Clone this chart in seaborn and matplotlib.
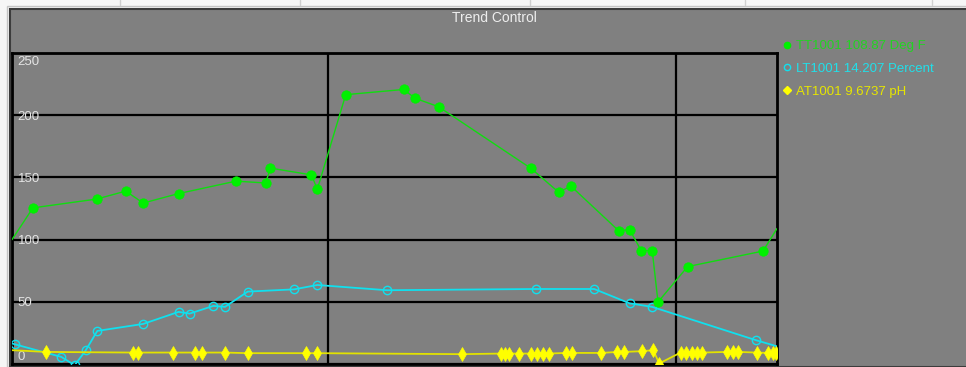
import numpy as np
import pandas as pd
import seaborn as sns
import matplotlib.pyplot as plt
from matplotlib.lines import Line2D
from matplotlib.patches import Rectangle
from matplotlib.transforms import ScaledTranslation

# time axis in seconds, window 5.6 .. 137.4 s, grid every 60 s
tt_time = [5.6, 9.2, 20.2, 25.2, 28.2, 34.3, 44.2, 49.3, 50.1, 57.2, 58.2,
           63.1, 73.1, 75.0, 79.1, 95.0, 99.8, 101.9, 110.1, 112.0, 114.0,
           115.9, 116.9, 122.0, 135.0, 137.4]
tt_value = [100, 125.5, 132.6, 139, 129.4, 137, 147, 145.5, 157.5, 152, 140.4,
            216.5, 220.7, 213.7, 206.8, 157.3, 138, 143, 107.2, 108, 91.2,
            91.2, 49.8, 78.3, 90.8, 108.9]

lt_time = [5.6, 6.2, 14.1, 16.4, 18.3, 20.3, 28.2, 34.3, 36.2, 40.3, 42.3,
           46.2, 54.2, 58.2, 70.2, 95.9, 105.9, 112.0, 115.9, 133.8, 137.4]
lt_value = [16.5, 15.7, 5.7, -1, 11, 26.6, 32.2, 41.9, 40.5, 46.7, 45.9,
            58.2, 60, 63.5, 59.3, 60.3, 60.3, 48.8, 45.9, 19.1, 14.2]

at_time = [5.6, 11.5, 26.4, 27.3, 33.3, 37.2, 38.3, 42.3, 46.3, 56.3, 58.2,
           83.2, 89.9, 90.5, 91.3, 93.0, 95.0, 96.0, 97.0, 98.1, 101.0, 102.1,
           107.1, 109.9, 111.0, 114.1, 116.1, 117.1, 120.8, 121.8, 122.7,
           123.6, 124.5, 128.8, 129.9, 130.7, 133.9, 135.9, 136.7, 137.3]
at_value = [11.1, 9.7, 9.2, 9.2, 9.2, 9.2, 9.2, 9.2, 8.7, 8.7, 8.7,
            7.9, 8.4, 8.4, 8.4, 8.4, 8.4, 8.4, 8.4, 8.4, 8.9, 8.9,
            8.9, 9.7, 9.7, 10.3, 11.1, 0.4, 9.2, 9.2, 9.2,
            9.2, 9.2, 9.7, 9.7, 9.7, 9.2, 8.9, 8.9, 8.9]

legend_labels = ['TT1001 108.87 Deg F', 'LT1001 14.207 Percent', 'AT1001 9.6737 pH']
y_ticks = [0, 50, 100, 150, 200, 250]
x_grid = [60, 120]

sns.set_style('dark')
plt.rcParams['font.family'] = ['Liberation Sans', 'DejaVu Sans']

W, H = 966, 367
fig = plt.figure(figsize=(W / 100, H / 100), dpi=100, facecolor='#f6f6f6')

# window frame around the trend panel (behind the axes)
fig.add_artist(Rectangle((7 / W, 0), 1, 1 - 6 / H, transform=fig.transFigure,
                         facecolor='none', edgecolor='#c4c4c4', lw=1, zorder=-2))
fig.add_artist(Rectangle((10 / W, 0), 1, 1 - 9 / H, transform=fig.transFigure,
                         facecolor='#808080', edgecolor='#3c3c3c', lw=1.5, zorder=-1))
for sx in [120, 300, 530, 745, 932]:
    fig.add_artist(Line2D([sx / W, sx / W], [1 - 5 / H, 1], transform=fig.transFigure,
                          color='#d0d0d0', lw=1, zorder=-2))

fig.text(494 / W, 1 - 18.5 / H, 'Trend Control', ha='center', va='center',
         color='#eeeeee', fontsize=10)

ax = fig.add_axes([12 / W, 3 / H, 765 / W, 311 / H])
ax.set_facecolor('#808080')

green, cyan, yellow = '#10dd10', '#10e0ee', '#eeee00'

sns.lineplot(x=tt_time, y=tt_value, ax=ax, color=green, lw=1, marker='o',
             markersize=6.8, markerfacecolor='#00f000', markeredgecolor='#00f000',
             markeredgewidth=0.5, markevery=slice(1, -1), estimator=None, sort=False,
             legend=False, zorder=4)
sns.lineplot(x=lt_time, y=lt_value, ax=ax, color=cyan, lw=1.3, marker='o',
             markersize=6, markerfacecolor='none', markeredgecolor=cyan,
             markeredgewidth=1, markevery=slice(1, -1), estimator=None, sort=False,
             legend=False, zorder=3)
sns.lineplot(x=at_time, y=at_value, ax=ax, color='#e2e200', lw=1.3, marker='d',
             markersize=7, markerfacecolor='#ffff00', markeredgecolor='#ffff00',
             markeredgewidth=0.5, markevery=slice(1, None), estimator=None, sort=False,
             legend=False, zorder=5)

ax.set_xlim(5.6, 137.4)
ax.set_ylim(0, 250)
ax.set_xticks(x_grid)
ax.set_xticklabels([])
ax.set_yticks(y_ticks)
ax.set_yticklabels([str(v) for v in y_ticks])
ax.tick_params(axis='x', length=0)
ax.tick_params(axis='y', length=0, pad=-4, labelcolor='#e4e4e4', labelsize=9.5)
for lab in ax.get_yticklabels():
    lab.set_horizontalalignment('left')
ylabs = ax.get_yticklabels()
ylabs[0].set_verticalalignment('bottom')
ylabs[-1].set_verticalalignment('top')
# nudge the end labels so they sit inside the plot like the original
ylabs[-1].set_transform(ylabs[-1].get_transform() + ScaledTranslation(0, -3 / 100, fig.dpi_scale_trans))
ylabs[0].set_transform(ylabs[0].get_transform() + ScaledTranslation(0, 1 / 100, fig.dpi_scale_trans))
ax.grid(True, color='black', lw=1.6)
ax.set_axisbelow(True)
ax.set_xlabel('')
ax.set_ylabel('')
for sp in ax.spines.values():
    sp.set_visible(True)
    sp.set_color('black')
    sp.set_linewidth(2)

handles = [
    Line2D([], [], ls='none', marker='o', markersize=4.5, color='#00f000'),
    Line2D([], [], ls='none', marker='o', markersize=4.5, markerfacecolor='none',
           markeredgecolor=cyan, markeredgewidth=1),
    Line2D([], [], ls='none', marker='D', markersize=4, color='#ffff00'),
]
fig.legend(handles, legend_labels, loc='upper left', bbox_to_anchor=(783 / W, 1 - 40 / H),
           frameon=False, fontsize=9.5, handlelength=0.6, handletextpad=0.4,
           labelspacing=0.8, borderaxespad=0, borderpad=0,
           labelcolor=['#22d422', '#20e0ea', '#e6e600'])

fig.savefig('out.png', dpi=100, facecolor=fig.get_facecolor())
